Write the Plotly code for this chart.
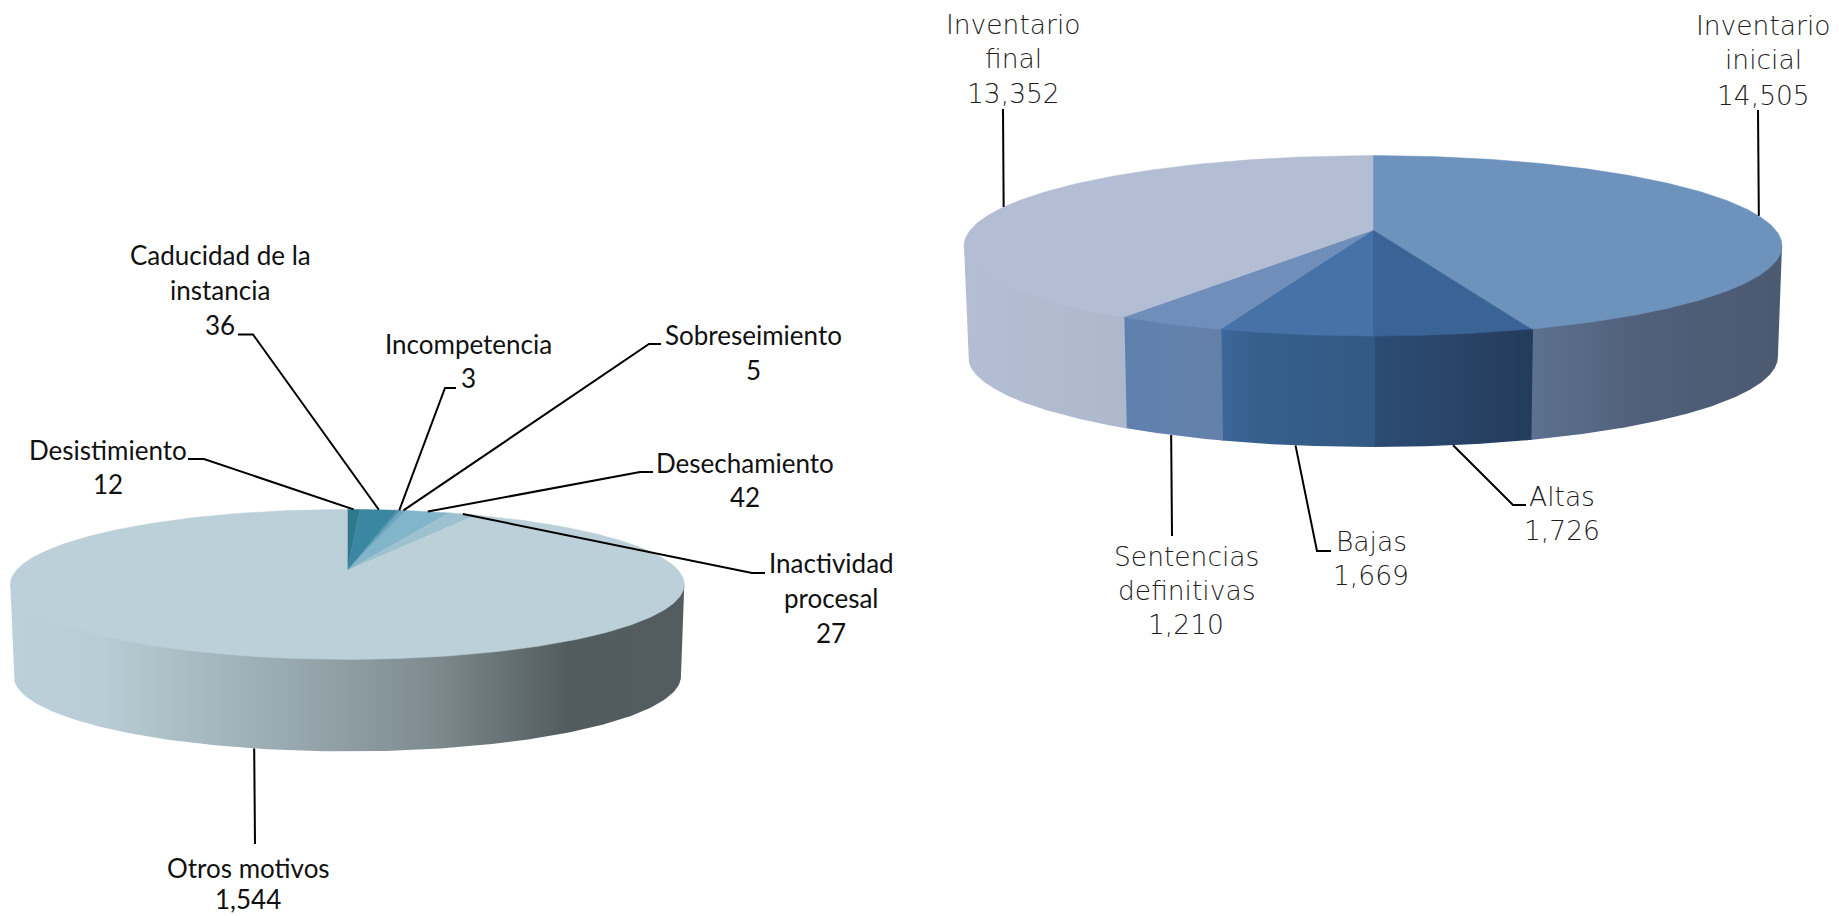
import math
import numpy as np
import plotly.graph_objects as go

# ---- data -----------------------------------------------------------------
left_labels = ["Desistimiento", "Caducidad de la\ninstancia", "Incompetencia", "Sobreseimiento",
               "Desechamiento", "Inactividad\nprocesal", "Otros motivos"]
left_values = [12, 36, 3, 5, 42, 27, 1544]

right_labels = ["Inventario\ninicial", "Altas", "Bajas", "Sentencias\ndefinitivas", "Inventario\nfinal"]
right_values = [14505, 1726, 1669, 1210, 13352]

# ---- styles ---------------------------------------------------------------
left_top = ["#2F798F", "#3B86A0", "#4F94AC", "#6CA7BD", "#82B5C9", "#9DC1CE", "#BBD0D8"]
left_side = [
    [(0, "#2F798F"), (1, "#2F798F")], [(0, "#3B86A0"), (1, "#3B86A0")], [(0, "#4F94AC"), (1, "#4F94AC")],
    [(0, "#6CA7BD"), (1, "#6CA7BD")], [(0, "#82B5C9"), (1, "#82B5C9")], [(0, "#9DC1CE"), (1, "#9DC1CE")],
    [(0, "#BBD0D8"), (0.13, "#B8CDD5"), (0.40, "#9AABB1"), (0.62, "#7F8D91"), (0.83, "#525B5E"), (1, "#535C5F")],
]
right_top = ["#6D93BD", "#3A6396", "#4672A8", "#6F8EBA", "#B3BDD3"]
right_side = [
    [(0, "#5C7290"), (0.45, "#505F7B"), (1, "#4B5A70")],
    [(0, "#2C4C74"), (0.5, "#294468"), (1, "#243B5B")],
    [(0, "#3D6799"), (0.25, "#375F8E"), (1, "#325982")],
    [(0, "#5F7FAE"), (0.6, "#6382AC"), (1, "#6380A8")],
    [(0, "#B3BDD3"), (0.7, "#B0BACF"), (1, "#AEB8CD")],
]

left_geom = dict(cx=347.3, half=337, top=509.4, apex=570.6, front=659.4, depth=92)
right_geom = dict(cx=1373, half=409, top=155.6, apex=230, front=336, depth=111)

# label placement: (centre x, y of each text row, leader elbow, leader end)
left_place = [
    (108, [450, 484], (204, 459), (188, 459)),
    (220, [255, 290, 325], (253, 334.5), (238, 334.5)),
    (468, [344, 378], (445, 388), (456, 388)),
    (753, [335, 370], (649, 344), (661, 344)),
    (745, [463, 497], (640, 472), (653, 472)),
    (831, [563, 598, 633], (752, 573), (765, 573)),
    (248, [868, 899], (255, 844), None),
]
right_place = [
    (1763, [25, 59, 95], (1758, 110), None),
    (1562, [496, 530], (1513, 505), (1526, 505)),
    (1371, [541.5, 575.5], (1317, 551), (1331, 551)),
    (1186, [556, 590, 624.5], (1172, 536), None),
    (1013, [24, 58.5, 93], (1003, 109), None),
]
left_font = dict(family="Lato", size=26, color="#111111")
right_font = dict(family="DejaVu Sans", size=26.5, color="#1E1E1E", weight=200)
LEADER_W = 2


def projector(g):
    """Perspective projection of the unit pie disc to the page."""
    t, b, f = g["top"], g["apex"], g["front"]
    c = (t + f - 2 * b) / (t - f)
    a = f * (1 + c) - b
    X = g["half"] * math.sqrt(1 - c * c)

    def rim(theta, lower=False):
        theta = np.asarray(theta, float)
        u, v = np.sin(theta), -np.cos(theta)
        w = 1 + c * v
        s = 0.99 if lower else 1.0
        x = g["cx"] + s * X * u / w
        y = (a * v + b) / w
        if lower:
            y = y + g["depth"]
        return x, y

    centre = (g["cx"], b)
    extreme = math.acos(c)  # angle where the rim reaches its widest point
    return rim, centre, extreme


fig = go.Figure()
annotations = []


def draw_pie(labels, values, tops, sides, geom, place, font):
    rim, centre, ext = projector(geom)
    total = sum(values)
    edges = np.concatenate([[0], np.cumsum(values)]) / total * 2 * math.pi
    vis0, vis1 = ext, 2 * math.pi - ext

    # sides first; upper edge tucked under the top faces, slight overlap between slices
    for i in range(len(values)):
        a0, a1 = max(edges[i], vis0), min(edges[i + 1], vis1)
        if a1 <= a0:
            continue
        if a0 > vis0:
            a0 -= 0.004
        th = np.linspace(a0, a1, 160)
        xt, yt = rim(th)
        xi = centre[0] + 0.985 * (xt - centre[0])
        yi = centre[1] + 0.985 * (yt - centre[1])
        xb, yb = rim(th[::-1], lower=True)
        fig.add_trace(go.Scatter(
            x=np.r_[xt[0], xi, xt[-1], xb, xt[0]], y=np.r_[yt[0], yi, yt[-1], yb, yt[0]],
            mode="lines", fill="toself",
            line=dict(width=0), hoverinfo="skip", showlegend=False,
            fillgradient=dict(type="horizontal", colorscale=sides[i]),
        ))
    # top faces
    for i in range(len(values)):
        th = np.linspace(edges[i], edges[i + 1], max(4, int((edges[i + 1] - edges[i]) * 80)))
        xt, yt = rim(th)
        fig.add_trace(go.Scatter(
            x=np.r_[centre[0], xt, centre[0]], y=np.r_[centre[1], yt, centre[1]],
            mode="lines", fill="toself", line=dict(width=0.5, color=tops[i]), fillcolor=tops[i],
            name=labels[i].replace("\n", " "), text=f"{values[i]:,}", hoverinfo="name+text", showlegend=False,
        ))
    # leaders + labels
    for i in range(len(values)):
        mid = (edges[i] + edges[i + 1]) / 2
        front = vis0 < mid < vis1
        sx, sy = rim(mid, lower=front)
        cx_, rows, elbow, end = place[i]
        xs, ys = [float(sx), elbow[0]], [float(sy), elbow[1]]
        if end:
            xs.append(end[0]); ys.append(end[1])
        fig.add_trace(go.Scatter(x=xs, y=ys, mode="lines", line=dict(color="black", width=LEADER_W),
                                 hoverinfo="skip", showlegend=False))
        lines = labels[i].split("\n") + [f"{values[i]:,}"]
        for text, y in zip(lines, rows):
            annotations.append(dict(x=cx_, y=y, text=text, showarrow=False, xref="x", yref="y",
                                    xanchor="center", yanchor="middle", font=font))


draw_pie(left_labels, left_values, left_top, left_side, left_geom, left_place, left_font)
draw_pie(right_labels, right_values, right_top, right_side, right_geom, right_place, right_font)

fig.update_layout(
    width=1839, height=916, margin=dict(l=0, r=0, t=0, b=0),
    paper_bgcolor="white", plot_bgcolor="white", showlegend=False,
    xaxis=dict(range=[0, 1839], visible=False, fixedrange=True),
    yaxis=dict(range=[916, 0], visible=False, fixedrange=True),
    annotations=annotations,
)
fig.write_html("out.html", config={"displayModeBar": False},
               post_script="document.body.style.margin='0';document.body.style.overflow='hidden';")
